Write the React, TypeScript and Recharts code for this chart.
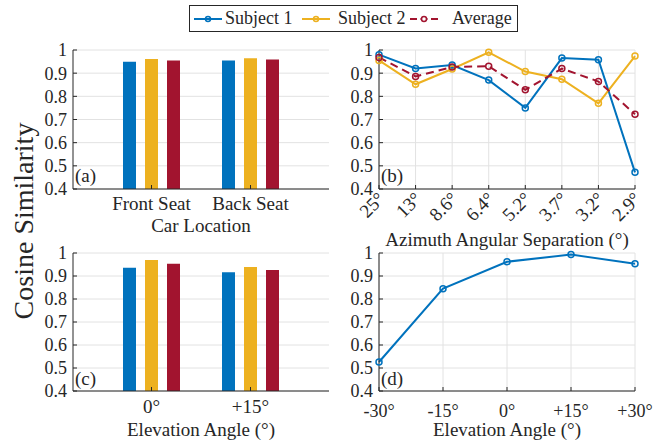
import { Bar, BarChart, CartesianGrid, Line, LineChart, XAxis, YAxis } from "recharts";

const seriesNames = ["Subject 1", "Subject 2", "Average"];
const seriesColors = ["#0072BD", "#EDB120", "#A2142F"];
const seriesKeys = ["s1", "s2", "avg"];

const yTicks = [0.4, 0.5, 0.6, 0.7, 0.8, 0.9, 1];

// (a) car location
const carLocations = ["Front Seat", "Back Seat"];
const carSubject1 = [0.949, 0.955];
const carSubject2 = [0.961, 0.964];
const carAverage = [0.955, 0.959];

// (b) azimuth separation
const azimuthLabels = ["25°", "13°", "8.6°", "6.4°", "5.2°", "3.7°", "3.2°", "2.9°"];
const azSubject1 = [0.98, 0.92, 0.935, 0.87, 0.75, 0.965, 0.958, 0.472];
const azSubject2 = [0.955, 0.852, 0.918, 0.99, 0.907, 0.874, 0.77, 0.974];
const azAverage = [0.968, 0.886, 0.927, 0.93, 0.828, 0.92, 0.864, 0.723];

// (c) elevation, two subjects
const elevBarLabels = ["0°", "+15°"];
const elevSubject1 = [0.936, 0.916];
const elevSubject2 = [0.97, 0.939];
const elevAverage = [0.953, 0.926];

// (d) elevation sweep
const elevLabels = ["-30°", "-15°", "0°", "+15°", "+30°"];
const elevSweep = [0.526, 0.845, 0.962, 0.993, 0.953];

const carData = carLocations.map((cat, i) => ({ cat, s1: carSubject1[i], s2: carSubject2[i], avg: carAverage[i] }));
const azData = azimuthLabels.map((cat, i) => ({ cat, s1: azSubject1[i], s2: azSubject2[i], avg: azAverage[i] }));
const elevBarData = elevBarLabels.map((cat, i) => ({ cat, s1: elevSubject1[i], s2: elevSubject2[i], avg: elevAverage[i] }));
const elevData = elevLabels.map((cat, i) => ({ cat, s1: elevSweep[i] }));

const ink = "#262626";
const gridColor = "#e2e2e2";
const font = "'Liberation Serif', serif";
const fs = 19;
const fmtY = (v: number) => (v === 1 ? "1" : v.toFixed(1));
const blank = () => "";
const tickStyle = { fill: ink, fontSize: fs, fontFamily: font };
const yTickStyle = { ...tickStyle, fontSize: 18 };

// legend slot offsets inside the box
const legendIconLeft = [2, 110, 218];
const legendTextLeft = [35, 148, 262];

function leftAxis(width: number) {
	return (
		<YAxis
			key="yl"
			type="number"
			domain={[0.4, 1]}
			ticks={yTicks}
			interval={0}
			width={width}
			tickSize={-4}
			tickMargin={10}
			tickFormatter={fmtY}
			stroke={ink}
			tick={yTickStyle}
		/>
	);
}

function rightAxis() {
	return (
		<YAxis
			key="yr"
			yAxisId="r"
			orientation="right"
			type="number"
			domain={[0.4, 1]}
			ticks={yTicks}
			interval={0}
			width={0}
			tickSize={-4}
			tickFormatter={blank}
			stroke={ink}
		/>
	);
}

function topAxis(padding?: { left: number; right: number }) {
	return (
		<XAxis
			key="xt"
			xAxisId="t"
			orientation="top"
			dataKey="cat"
			height={0}
			interval={0}
			padding={padding}
			tickSize={-4}
			tickFormatter={blank}
			stroke={ink}
		/>
	);
}

const AzimuthTick = ({ x, y, payload }: any) => (
	<g transform={`translate(${x + 7},${y + 3})`}>
		<text x={0} y={0} textAnchor="end" transform="rotate(-45)" fill={ink} fontSize={fs} fontFamily={font}>
			{payload.value}
		</text>
	</g>
);

function PanelTag({ left, top, text }: { left: number; top: number; text: string }) {
	return <div style={{ position: "absolute", left, top, fontSize: fs, lineHeight: "20px", color: ink }}>{text}</div>;
}

function Legend() {
	return (
		<div
			style={{
				position: "absolute",
				left: 189,
				top: 5,
				width: 327,
				height: 25,
				border: `1px solid ${ink}`,
				fontSize: 18,
				color: ink,
				background: "#fff",
				whiteSpace: "nowrap",
			}}
		>
			{seriesNames.map((name, i) => (
				<div key={name}>
					<svg width={32} height={10} style={{ position: "absolute", left: legendIconLeft[i], top: 8 }}>
						<line
							x1={2}
							x2={30}
							y1={5}
							y2={5}
							stroke={seriesColors[i]}
							strokeWidth={2}
							strokeDasharray={i === 2 ? "7 3.5" : undefined}
						/>
						<circle cx={16} cy={5} r={2.5} fill={i === 2 ? "#fff" : "none"} stroke={seriesColors[i]} strokeWidth={1.5} />
					</svg>
					<span style={{ position: "absolute", left: legendTextLeft[i], top: 2, lineHeight: "20px" }}>{name}</span>
				</div>
			))}
		</div>
	);
}

export default function App() {
	return (
		<div
			style={{
				position: "absolute",
				left: 0,
				top: 0,
				width: 663,
				height: 440,
				background: "#fff",
				fontFamily: font,
				color: ink,
			}}
		>
			<style>{`svg text { font-family: 'Liberation Serif', serif; }`}</style>
			<Legend />
			<div
				style={{
					position: "absolute",
					left: 24,
					top: 221,
					transform: "translate(-50%, -50%) rotate(-90deg)",
					whiteSpace: "nowrap",
					fontSize: 28,
				}}
			>
				Cosine Similarity
			</div>

			{/* (a) */}
			<div style={{ position: "absolute", left: 0, top: 0 }}>
				<BarChart
					width={340}
					height={245}
					data={carData}
					margin={{ top: 50, right: 11, left: 33, bottom: 27 }}
					barSize={13}
					barGap={9}
				>
					<CartesianGrid vertical={false} stroke={gridColor} />
					<XAxis
						dataKey="cat"
						interval={0}
						height={29}
						padding={{ left: 29, right: 29 }}
						tickSize={-4}
						tickMargin={12}
						stroke={ink}
						tick={tickStyle}
						label={{ value: "Car Location", position: "bottom", offset: 1, ...tickStyle }}
					/>
					{topAxis({ left: 29, right: 29 })}
					{leftAxis(40)}
					{rightAxis()}
					{seriesKeys.map((k, i) => (
						<Bar key={k} dataKey={k} fill={seriesColors[i]} isAnimationActive={false} />
					))}
				</BarChart>
			</div>
			<PanelTag left={75} top={166} text="(a)" />

			{/* (b) */}
			<div style={{ position: "absolute", left: 340, top: 0 }}>
				<LineChart width={323} height={250} data={azData} margin={{ top: 50, right: 28, left: 9, bottom: 18 }}>
					<CartesianGrid stroke={gridColor} />
					<XAxis
						dataKey="cat"
						interval={0}
						height={43}
						tickSize={-4}
						tickMargin={12}
						stroke={ink}
						tick={<AzimuthTick />}
						label={{ value: "Azimuth Angular Separation (°)", position: "bottom", offset: 1, ...tickStyle }}
					/>
					{topAxis()}
					{leftAxis(30)}
					{rightAxis()}
					{seriesKeys.map((k, i) => (
						<Line
							key={k}
							dataKey={k}
							stroke={seriesColors[i]}
							strokeWidth={2}
							strokeDasharray={i === 2 ? "8 5" : undefined}
							dot={{ r: 3, strokeWidth: 1.5, fill: "none", strokeDasharray: "" }}
							isAnimationActive={false}
						/>
					))}
				</LineChart>
			</div>
			<PanelTag left={381} top={166} text="(b)" />

			{/* (c) */}
			<div style={{ position: "absolute", left: 0, top: 235 }}>
				<BarChart
					width={340}
					height={205}
					data={elevBarData}
					margin={{ top: 18, right: 11, left: 33, bottom: 19 }}
					barSize={13}
					barGap={9}
				>
					<CartesianGrid vertical={false} stroke={gridColor} />
					<XAxis
						dataKey="cat"
						interval={0}
						height={30}
						padding={{ left: 29, right: 29 }}
						tickSize={-4}
						tickMargin={13}
						stroke={ink}
						tick={tickStyle}
						label={{ value: "Elevation Angle (°)", position: "bottom", offset: 2, ...tickStyle }}
					/>
					{topAxis({ left: 29, right: 29 })}
					{leftAxis(40)}
					{rightAxis()}
					{seriesKeys.map((k, i) => (
						<Bar key={k} dataKey={k} fill={seriesColors[i]} isAnimationActive={false} />
					))}
				</BarChart>
			</div>
			<PanelTag left={75} top={369} text="(c)" />

			{/* (d) */}
			<div style={{ position: "absolute", left: 340, top: 235 }}>
				<LineChart width={323} height={205} data={elevData} margin={{ top: 18, right: 28, left: 9, bottom: 17 }}>
					<CartesianGrid stroke={gridColor} />
					<XAxis
						dataKey="cat"
						interval={0}
						height={32}
						tickSize={-4}
						tickMargin={17}
						stroke={ink}
						tick={{ ...tickStyle, fontSize: 18 }}
						label={{ value: "Elevation Angle (°)", position: "bottom", offset: 0, ...tickStyle }}
					/>
					{topAxis()}
					{leftAxis(30)}
					{rightAxis()}
					<Line
						dataKey="s1"
						stroke={seriesColors[0]}
						strokeWidth={2}
						dot={{ r: 3, strokeWidth: 1.5, fill: "none" }}
						isAnimationActive={false}
					/>
				</LineChart>
			</div>
			<PanelTag left={381} top={369} text="(d)" />
		</div>
	);
}
